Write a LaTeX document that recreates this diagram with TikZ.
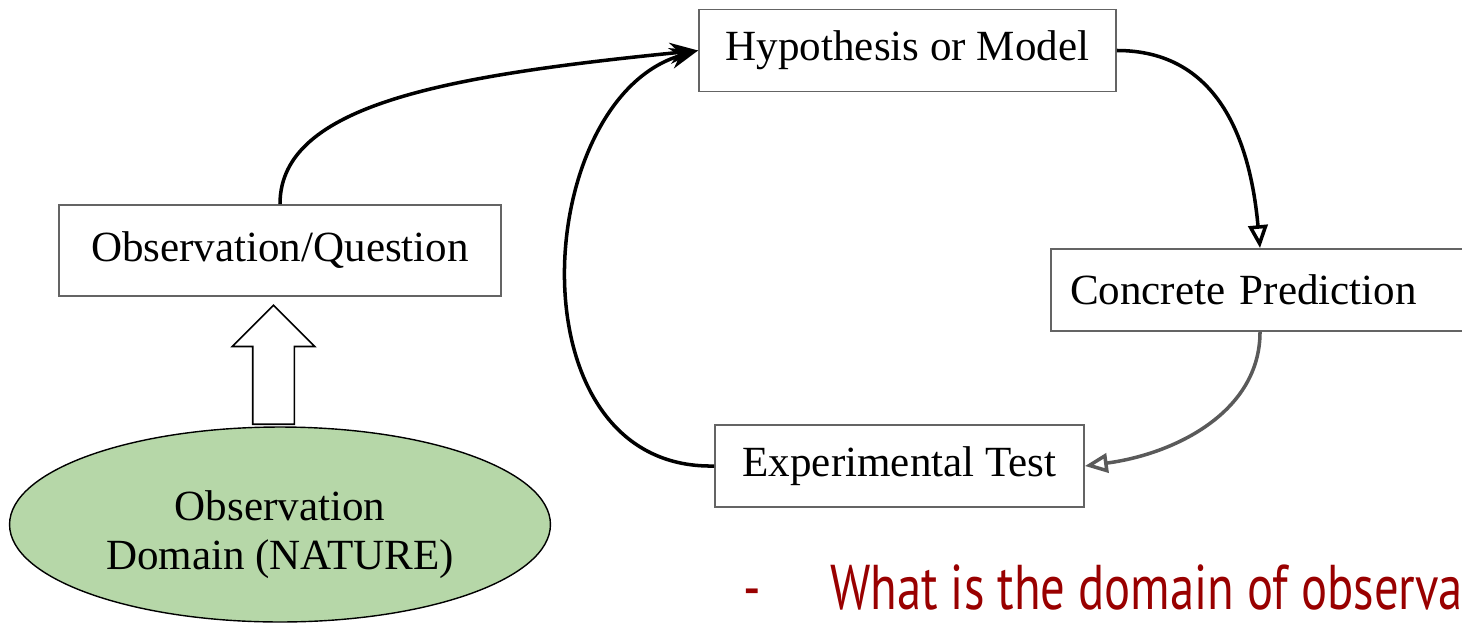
\documentclass[tikz,border=0pt]{standalone}
\usepackage{fontspec}
\setmainfont{Liberation Serif}
\newfontfamily\notefont[FakeStretch=0.77]{PT Sans}
\usepackage{tikz}
\usetikzlibrary{shapes,arrows.meta,positioning}
\definecolor{boxgray}{RGB}{100,100,100}
\definecolor{arrowgray}{RGB}{90,90,90}
\definecolor{naturegreen}{RGB}{182,215,168}
\definecolor{notered}{RGB}{153,0,0}

\begin{document}
\begin{tikzpicture}[
    x=0.02cm, y=-0.02cm,
    stage/.style={rectangle, draw=boxgray, line width=1.1pt, fill=white, minimum height=1.64cm, font=\fontsize{24.5}{29}\selectfont},
    nature/.style={ellipse, draw, line width=0.8pt, fill=naturegreen, minimum width=10.82cm, minimum height=3.9cm, align=center, font=\fontsize{24.5}{28}\selectfont},
    bigarrow/.style={single arrow, draw, line width=0.9pt, fill=white, shape border rotate=90, minimum height=2.38cm, single arrow head extend=0.41cm, inner sep=0pt},
    note/.style={text=notered, font=\notefont\fontsize{36}{40}\selectfont, inner sep=0pt, text depth=0pt},
    flow/.style={-{Stealth[length=16pt,width=12pt]}, line width=2pt},
    openflow/.style={-{Triangle[open,length=13pt,width=11pt]}, line width=2pt}
]
\useasboundingbox (0,0) rectangle (1462,625);

% Stages of the cycle
\node[stage, minimum width=8.34cm] (hyp) at (907.5,50.5) {Hypothesis or Model};
\node[stage, minimum width=8.84cm, minimum height=1.82cm] (obs) at (280,250.5) {Observation/Question};
\node[stage, text width=7.6cm, inner xsep=0.38cm, align=left] (pred) at (1260,290) {Concrete Prediction};
\node[stage, minimum width=7.38cm] (test) at (899.5,466) {Experimental Test};

% Nature and the way up
\node[nature] (domain) at (280,524.5) {\rule{0pt}{1cm}Observation\\Domain (NATURE)};
\node[bigarrow, anchor=tail] (rise) at (273.5,425) {\rule{0.8cm}{0pt}\rule{0pt}{0.8cm}};

% Note
\node[note, anchor=base west] (dash) at (743,609) {-};
\node[note, anchor=base west] (question) at (830,609) {What is the domain of observa};

% Arrows
\draw[flow] (obs.north) .. controls +(0,-100) and +(-250,25) .. (hyp.west);
\draw[flow] (test.west) .. controls +(-205,4) and +(-167,48) .. (hyp.west);
\draw[openflow] (hyp.east) .. controls +(100,0) and +(-10,-110) .. (pred.north);
\draw[openflow, arrowgray] (pred.south) .. controls +(0,80) and +(90,-12) .. (test.east);

\end{tikzpicture}
\end{document}
